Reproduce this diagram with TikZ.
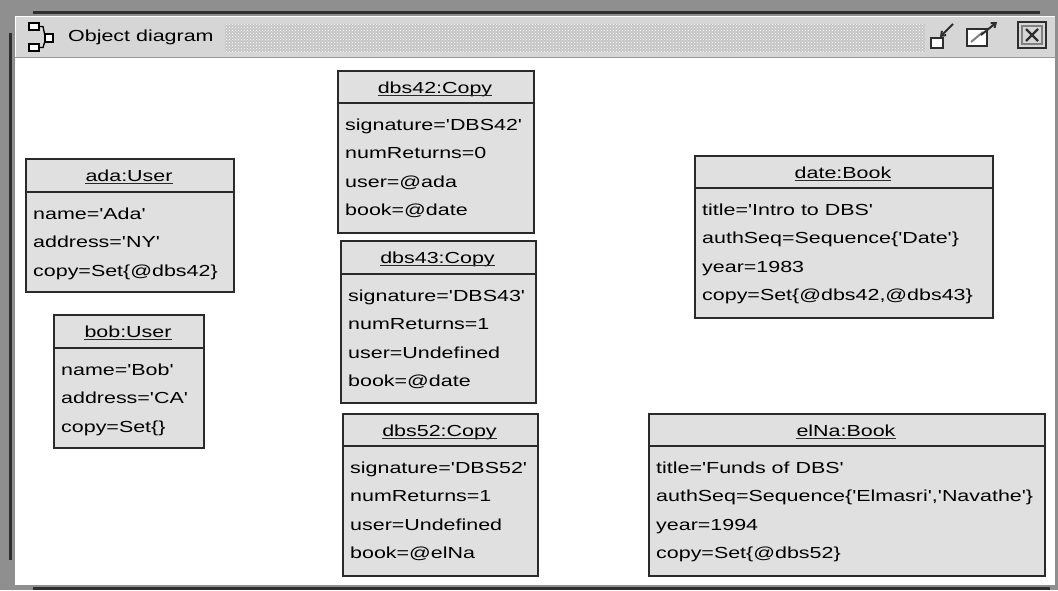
\documentclass[tikz,border=0pt]{standalone}
\usepackage{fontspec}
\newfontfamily\uf{Liberation Sans}[FakeStretch=1.34]
\usetikzlibrary{patterns,arrows.meta}
\definecolor{framegray}{HTML}{8F8F8F}
\definecolor{framedark}{HTML}{2E2E2E}
\definecolor{barfill}{HTML}{D6D6D6}
\definecolor{boxfill}{HTML}{E0E0E0}
\definecolor{boxline}{HTML}{2A2A2A}
\definecolor{dotcol}{HTML}{B4B4B4}
\newcommand\boxfont{\uf\fontsize{16}{19}\selectfont}
\tikzset{
  obj/.style={draw=boxline, fill=boxfill, line width=1.6pt, inner sep=0pt, rectangle},
  sepline/.style={draw=boxline, line width=1.6pt},
  hdr/.style={anchor=base, inner sep=0pt, font=\boxfont},
  attr/.style={anchor=base west, inner sep=0pt, font=\boxfont},
  uline/.style={draw=boxline, line width=1.2pt},
  icon/.style={draw=black, fill=white, line width=1.5pt},
  wicon/.style={draw=framedark, line width=2pt},
}
\newcommand\objbox[8]{%
  \node[obj, anchor=north west, minimum width={(#3-#2)*1pt}, minimum height={(#6-#4)*1pt}] (#1) at (#2,#4) {};
  \draw[sepline] (#2,#5) -- (#3,#5);
  \node[hdr] (#1-t) at ({(#2+#3)/2},{#4+23}) {#7};
  \draw[uline] ([yshift=-2.5pt]#1-t.base west) -- ([yshift=-2.5pt]#1-t.base east);
  \foreach \attrtext [count=\i] in {#8} {
    \node[attr] (#1-a\i) at ({#2+8},{#5+27+(\i-1)*28.5}) {\attrtext};
  }%
}
\begin{document}
\begin{tikzpicture}[x=1pt,y=-1pt]
\useasboundingbox (0,0) rectangle (1058,590);
% window frame
\fill[framegray] (0,0) rectangle (1058,590);
\draw[framedark, line width=3pt] (33,12) -- (1040,12);
\draw[framedark, line width=3pt] (10,33) -- (10,560);
\draw[framedark, line width=3pt] (33,588) -- (1050,588);
\fill[white] (15,16) rectangle (1055,585);
\fill[barfill] (15,16) rectangle (1055,57);
\draw[white, line width=1pt] (15,16.5) -- (1055,16.5);
\draw[white, line width=1pt] (15.5,16) -- (15.5,585);
\draw[gray!80, line width=1.5pt] (15,57.5) -- (1055,57.5);
% title bar texture
\fill[barfill!92!black] (225,24) rectangle (925,52);
\fill[pattern=crosshatch dots, pattern color=white] (225,24) rectangle (925,52);
% title icon
\draw[black, line width=1.3pt] (39,26.5) -- (43,26.5) -- (45,36);
\draw[black, line width=1.3pt] (39,47.5) -- (43,47.5) -- (45,41);
\draw[icon] (29,23) rectangle (39,30);
\draw[icon] (29,44) rectangle (39,51);
\draw[icon] (45,34) rectangle (53,42);
\node[anchor=west, inner sep=0pt, font=\boxfont] (title) at (68,37) {Object diagram};
% minimize icon
\draw[wicon, fill=white] (931,38) rectangle (943,48);
\draw[wicon, -{Straight Barb[length=4pt,width=6pt]}] (953,24) -- (940,37);
% maximize icon
\draw[wicon, fill=white] (967,29) rectangle (987,46);
\draw[gray, line width=2pt] (971,42) -- (983,32);
\draw[wicon, -{Straight Barb[length=4pt,width=6pt]}] (981,35) -- (997,22);
% close icon
\draw[framedark, line width=2pt, fill=barfill] (1018,22) rectangle (1046,48);
\draw[gray, line width=1.5pt] (1022,26) rectangle (1042,44);
\draw[framedark, line width=2.2pt] (1026,29) -- (1038,41);
\draw[framedark, line width=2.2pt] (1026,41) -- (1038,29);
% objects
\objbox{ada}{25}{233}{158}{192}{291}{ada:User}{{name='Ada'},{address='NY'},{copy=Set\{@dbs42\}}}
\objbox{bob}{53}{203}{314}{348}{447}{bob:User}{{name='Bob'},{address='CA'},{copy=Set\{\}}}
\objbox{dbs42}{337}{533}{70}{103}{232}{dbs42:Copy}{{signature='DBS42'},{numReturns=0},{user=@ada},{book=@date}}
\objbox{dbs43}{340}{535}{240}{274}{402}{dbs43:Copy}{{signature='DBS43'},{numReturns=1},{user=Undefined},{book=@date}}
\objbox{dbs52}{342}{537}{413}{446}{575}{dbs52:Copy}{{signature='DBS52'},{numReturns=1},{user=Undefined},{book=@elNa}}
\objbox{date}{694}{992}{155}{188}{317}{date:Book}{{title='Intro to DBS'},{authSeq=Sequence\{'Date'\}},{year=1983},{copy=Set\{@dbs42,@dbs43\}}}
\objbox{elNa}{648}{1044}{413}{446}{575}{elNa:Book}{{title='Funds of DBS'},{authSeq=Sequence\{'Elmasri','Navathe'\}},{year=1994},{copy=Set\{@dbs52\}}}
\end{tikzpicture}
\end{document}
